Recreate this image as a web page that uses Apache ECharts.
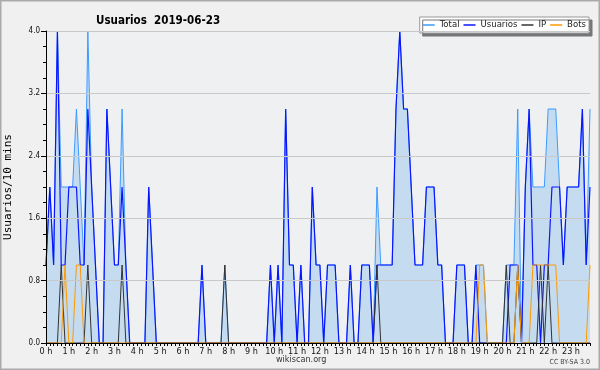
<!DOCTYPE html>
<html>
<head>
<meta charset="utf-8">
<script src="https://cdn.jsdelivr.net/npm/echarts@6/dist/echarts.min.js"></script>
<style>
  html, body { margin: 0; padding: 0; background: #f0f0f0; }
  #chart { width: 600px; height: 370px; }
</style>
</head>
<body>
<div id="chart"></div>
<script>
// one value every 10 minutes, 0:00 .. 23:50
var hourLabels = ['0 h', '1 h', '2 h', '3 h', '4 h', '5 h', '6 h', '7 h', '8 h', '9 h', '10 h', '11 h',
    '12 h', '13 h', '14 h', '15 h', '16 h', '17 h', '18 h', '19 h', '20 h', '21 h', '22 h', '23 h'];
var yTicks = [0, 0.8, 1.6, 2.4, 3.2, 4.0];

var total = [
    1, 2, 1, 4, 2, 2, 2, 2, 3, 2,
    1, 4, 2, 1, 0, 0, 3, 2, 1, 1,
    3, 1, 0, 0, 0, 0, 0, 2, 1, 0,
    0, 0, 0, 0, 0, 0, 0, 0, 0, 0,
    0, 1, 0, 0, 0, 0, 0, 1, 0, 0,
    0, 0, 0, 0, 0, 0, 0, 0, 0, 1,
    0, 1, 0, 3, 1, 1, 0, 1, 0, 0,
    2, 1, 1, 0, 1, 1, 1, 0, 0, 0,
    1, 0, 0, 1, 1, 1, 0, 2, 1, 1,
    1, 1, 3, 4, 3, 3, 2, 1, 1, 1,
    2, 2, 2, 1, 1, 0, 0, 0, 1, 1,
    1, 0, 0, 1, 1, 1, 0, 0, 0, 0,
    0, 1, 1, 1, 3, 0, 2, 3, 2, 2,
    2, 2, 3, 3, 3, 2, 1, 2, 2, 2,
    2, 3, 1, 3
];
var usuarios = [
    1, 2, 1, 4, 1, 1, 2, 2, 2, 1,
    1, 3, 2, 1, 0, 0, 3, 2, 1, 1,
    2, 1, 0, 0, 0, 0, 0, 2, 1, 0,
    0, 0, 0, 0, 0, 0, 0, 0, 0, 0,
    0, 1, 0, 0, 0, 0, 0, 0, 0, 0,
    0, 0, 0, 0, 0, 0, 0, 0, 0, 1,
    0, 1, 0, 3, 1, 1, 0, 1, 0, 0,
    2, 1, 1, 0, 1, 1, 1, 0, 0, 0,
    1, 0, 0, 1, 1, 1, 0, 1, 1, 1,
    1, 1, 3, 4, 3, 3, 2, 1, 1, 1,
    2, 2, 2, 1, 1, 0, 0, 0, 1, 1,
    1, 0, 0, 1, 0, 0, 0, 0, 0, 0,
    0, 0, 1, 1, 1, 0, 2, 3, 1, 1,
    0, 1, 1, 2, 2, 2, 1, 2, 2, 2,
    2, 3, 1, 2
];
var ip = [
    0, 0, 0, 0, 1, 0, 0, 0, 0, 0,
    0, 1, 0, 0, 0, 0, 0, 0, 0, 0,
    1, 0, 0, 0, 0, 0, 0, 0, 0, 0,
    0, 0, 0, 0, 0, 0, 0, 0, 0, 0,
    0, 0, 0, 0, 0, 0, 0, 1, 0, 0,
    0, 0, 0, 0, 0, 0, 0, 0, 0, 0,
    0, 0, 0, 0, 0, 0, 0, 0, 0, 0,
    0, 0, 0, 0, 0, 0, 0, 0, 0, 0,
    0, 0, 0, 0, 0, 0, 0, 1, 0, 0,
    0, 0, 0, 0, 0, 0, 0, 0, 0, 0,
    0, 0, 0, 0, 0, 0, 0, 0, 0, 0,
    0, 0, 0, 0, 0, 0, 0, 0, 0, 0,
    0, 1, 0, 0, 1, 0, 0, 0, 0, 0,
    1, 0, 1, 0, 0, 0, 0, 0, 0, 0,
    0, 0, 0, 0
];
var bots = [
    0, 0, 0, 0, 0, 1, 0, 0, 1, 1,
    0, 0, 0, 0, 0, 0, 0, 0, 0, 0,
    0, 0, 0, 0, 0, 0, 0, 0, 0, 0,
    0, 0, 0, 0, 0, 0, 0, 0, 0, 0,
    0, 0, 0, 0, 0, 0, 0, 0, 0, 0,
    0, 0, 0, 0, 0, 0, 0, 0, 0, 0,
    0, 0, 0, 0, 0, 0, 0, 0, 0, 0,
    0, 0, 0, 0, 0, 0, 0, 0, 0, 0,
    0, 0, 0, 0, 0, 0, 0, 0, 0, 0,
    0, 0, 0, 0, 0, 0, 0, 0, 0, 0,
    0, 0, 0, 0, 0, 0, 0, 0, 0, 0,
    0, 0, 0, 0, 1, 1, 0, 0, 0, 0,
    0, 0, 0, 0, 1, 0, 0, 0, 1, 1,
    1, 1, 1, 1, 1, 0, 0, 0, 0, 0,
    0, 0, 0, 1
];

var slots = [];
for (var h = 0; h < hourLabels.length; h++) {
    for (var m = 0; m < 6; m++) {
        slots.push(h + ':' + m + '0');
    }
}

var font = 'DejaVu Sans Condensed';
var myChart = echarts.init(document.getElementById('chart'));

var option = {
    backgroundColor: '#f0f0f0',
    animation: false,
    title: {
        text: 'Usuarios  2019-06-23',
        left: 91,
        top: 10,
        textStyle: {
            fontFamily: font,
            fontSize: 11.5,
            fontWeight: 'bold',
            color: '#000'
        }
    },
    legend: {
        data: ['Total', 'Usuarios', 'IP', 'Bots'],
        right: 11,
        top: 17,
        icon: 'rect',
        itemWidth: 12,
        itemHeight: 1.5,
        itemGap: 4,
        padding: [3, 3, 3, 3],
        backgroundColor: '#fff',
        borderColor: '#999',
        borderWidth: 1,
        shadowColor: '#777',
        shadowBlur: 0,
        shadowOffsetX: 3,
        shadowOffsetY: 3,
        textStyle: {
            fontFamily: font,
            fontSize: 9.5,
            color: '#222'
        }
    },
    grid: {
        left: 46,
        right: 10,
        top: 31,
        bottom: 27,
        outerBoundsMode: 'none',
        show: true,
        backgroundColor: '#eef0f2',
        borderWidth: 0
    },
    color: ['#3d9bff', '#0a14ff', '#333333', '#ff9900'],
    xAxis: {
        type: 'category',
        data: slots,
        boundaryGap: false,
        z: 10,
        axisLine: { lineStyle: { color: '#000', width: 1 } },
        axisTick: {
            interval: 0,
            length: 3,
            lineStyle: { color: '#000' }
        },
        splitLine: { show: false },
        axisLabel: {
            interval: function (idx) { return idx % 6 === 0; },
            formatter: function (v, idx) { return hourLabels[idx / 6]; },
            fontFamily: font,
            fontSize: 9,
            color: '#111',
            margin: 4
        }
    },
    yAxis: {
        type: 'value',
        min: yTicks[0],
        max: yTicks[yTicks.length - 1],
        interval: 0.8,
        z: 10,
        name: 'Usuarios/10 mins',
        nameLocation: 'middle',
        nameRotate: 90,
        nameGap: 32,
        nameTextStyle: {
            fontFamily: 'DejaVu Sans Mono',
            fontSize: 11,
            color: '#000'
        },
        axisLine: { show: true, lineStyle: { color: '#000', width: 1 } },
        axisTick: { show: true, length: 5, lineStyle: { color: '#000' } },
        minorTick: { show: true, splitNumber: 4, length: 3, lineStyle: { color: '#000' } },
        splitLine: { lineStyle: { color: '#c9c9c9', width: 1 } },
        axisLabel: {
            formatter: function (v) { return v.toFixed(1); },
            fontFamily: font,
            fontSize: 8,
            color: '#111',
            margin: 6
        }
    },
    series: [
        {
            name: 'Total',
            type: 'line',
            data: total,
            symbol: 'none',
            lineStyle: { width: 1, color: '#3d9bff' },
            areaStyle: { color: '#c5dcf0', opacity: 1 }
        },
        {
            name: 'Usuarios',
            type: 'line',
            data: usuarios,
            symbol: 'none',
            lineStyle: { width: 1.2, color: '#0a14ff' }
        },
        {
            name: 'IP',
            type: 'line',
            data: ip,
            symbol: 'none',
            lineStyle: { width: 1, color: '#333333' }
        },
        {
            name: 'Bots',
            type: 'line',
            data: bots,
            symbol: 'none',
            lineStyle: { width: 1, color: '#ff9900' }
        }
    ],
    graphic: [
        {
            type: 'rect',
            shape: { x: 0.5, y: 0.5, width: 599, height: 369 },
            style: { fill: 'none', stroke: '#aaa', lineWidth: 2 },
            silent: true
        },
        {
            type: 'text',
            left: 276,
            top: 355,
            style: { text: 'wikiscan.org', font: '9px "DejaVu Sans Condensed"', fill: '#333' }
        },
        {
            type: 'text',
            right: 10,
            top: 359,
            style: { text: 'CC BY-SA 3.0', font: '7px "DejaVu Sans Condensed"', fill: '#444' }
        }
    ]
};

myChart.setOption(option);
</script>
</body>
</html>
